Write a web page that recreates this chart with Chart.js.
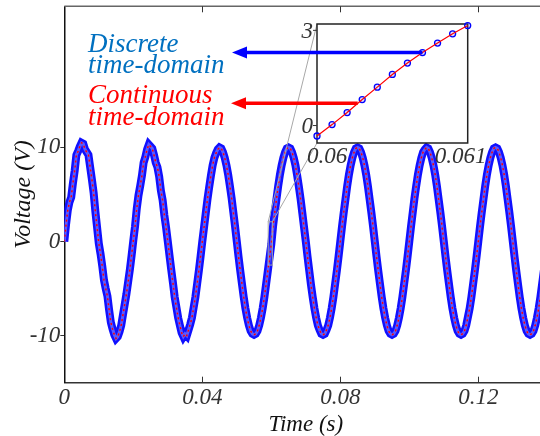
<!DOCTYPE html>
<html>
<head>
<meta charset="utf-8">
<script src="https://cdn.jsdelivr.net/npm/chart.js@4.4.1/dist/chart.umd.min.js"></script>
<style>
  html, body { margin: 0; padding: 0; background: #fff; overflow: hidden; }
  #wrap { position: relative; width: 540px; height: 436px; overflow: hidden; }
  #mainChart, #insetChart { position: absolute; left: 0; top: 0; }
</style>
</head>
<body>
<div id="wrap">
  <canvas id="mainChart" width="560" height="436"></canvas>
  <canvas id="insetChart" width="540" height="436"></canvas>
</div>
<script>
// main trace, one sample every SAMPLE_STEP seconds starting at t = 0
var SAMPLE_STEP = 0.0005;
var voltage = [
    0, 1.8, 3.3, 4.2, 4.7, 6.2, 7.5, 9.2, 9.6, 10.1,
    10.5, 10.4, 9.8, 9.5, 9.2, 7.9, 6.6, 5.2, 3.2, 1.5,
    -0.2, -1.3, -2.6, -4.1, -5.0, -5.8, -7.3, -8.6, -9.3, -9.9,
    -10.3, -10.1, -9.6, -8.9, -7.8, -6.7, -5.6, -4.3, -3.0, -1.5,
    0.1, 1.6, 3.5, 4.9, 5.9, 7.0, 8.4, 9.0, 9.8, 10.3,
    10.1, 9.9, 9.2, 8.4, 7.9, 6.9, 5.4, 4.4, 2.8, 1.5,
    0.0, -1.5, -3.0, -4.4, -5.9, -7.0, -8.1, -8.9, -9.7, -10.1,
    -9.8, -10.0, -9.4, -8.8, -8.1, -7.0, -5.9, -4.5, -3.1, -1.6,
    0,
    1.5, 3.0, 4.5, 5.8, 7.0, 8.1, 8.9, 9.4, 9.8, 10.0,
    9.9, 9.5, 8.9, 8.1, 7.1, 5.9, 4.6, 3.1, 1.6, 0.0,
    -1.6, -3.1, -4.5, -5.9, -7.1, -8.1, -8.9, -9.5, -9.8, -9.9,
    -9.8, -9.5, -8.9, -8.1, -7.1, -5.9, -4.5, -3.1, -1.7, -0.3,
    1.6, 3.1, 4.5, 5.9, 7.1, 8.1, 8.9, 9.5, 9.9, 10.0,
    9.9, 9.5, 8.9, 8.1, 7.0, 5.8, 4.5, 3.0, 1.5, 0.0,
    -1.6, -3.1, -4.6, -5.9, -7.1, -8.1, -8.9, -9.4, -9.8, -9.9,
    -9.8, -9.4, -8.9, -8.1, -7.1, -5.9, -4.5, -3.1, -1.6, 0.0,
    1.6, 3.1, 4.5, 5.9, 7.1, 8.1, 8.9, 9.5, 9.9, 10.0,
    9.9, 9.5, 8.9, 8.1, 7.1, 5.9, 4.5, 3.1, 1.6, 0.0,
    -1.6, -3.1, -4.5, -5.9, -7.1, -8.1, -8.9, -9.5, -9.8, -9.9,
    -9.8, -9.5, -8.9, -8.1, -7.1, -5.9, -4.5, -3.1, -1.6, 0.0,
    1.6, 3.1, 4.6, 5.9, 7.1, 8.1, 8.9, 9.5, 9.8, 10.0,
    9.9, 9.5, 8.9, 8.1, 7.1, 5.9, 4.5, 3.1, 1.6, 0.0,
    -1.6, -3.1, -4.5, -5.9, -7.1, -8.1, -8.9, -9.5, -9.8, -9.9,
    -9.8, -9.5, -8.9, -8.0, -7.1, -5.9, -4.5, -3.1, -1.6, 0.0,
    1.6, 3.1, 4.5, 5.9, 7.1, 8.1, 8.9, 9.5, 9.9, 10.0,
    9.9, 9.5, 8.9, 8.1, 7.1, 5.9, 4.5, 3.1, 1.6, 0.0,
    -1.6, -3.1, -4.5, -5.9, -7.1, -8.1, -8.9, -9.5, -9.8, -9.9,
    -9.8, -9.5, -8.9, -8.1, -7.1, -5.9, -4.5, -3.1, -1.6, 0.0
];
var xTicks = [0, 0.04, 0.08, 0.12];
var yTicks = [-10, 0, 10];

// inset: 0.1 ms samples around t = 0.06 s
var insetTime = [0.0600, 0.0601, 0.0602, 0.0603, 0.0604, 0.0605, 0.0606, 0.0607, 0.0608, 0.0609, 0.0610];
var insetVolts = [-0.33, 0.03, 0.41, 0.82, 1.21, 1.61, 1.97, 2.30, 2.60, 2.89, 3.15];
var insetXTicks = [0.06, 0.061];
var insetYTicks = [0, 3];

// region of the main plot that the inset magnifies
var zoomBox = { x0: 0.0591, x1: 0.0603, y0: -2.5, y1: 2.1 };

var SERIF = '"Liberation Serif", "Times New Roman", serif';
var tickFont = { family: SERIF, size: 23, style: 'italic' };

var mainPoints = voltage.map(function(v, i) { return { x: i * SAMPLE_STEP, y: v }; });
var insetPoints = insetTime.map(function(t, i) { return { x: t, y: insetVolts[i] }; });

var mainAxisDecor = {
    id: 'mainAxisDecor',
    afterDraw: function(chart) {
        var ctx = chart.ctx, a = chart.chartArea, xs = chart.scales.x;
        ctx.save();
        ctx.strokeStyle = '#666';
        ctx.lineWidth = 1.5;
        ctx.beginPath();
        ctx.moveTo(a.left, a.top);
        ctx.lineTo(a.right, a.top);
        ctx.stroke();
        ctx.strokeStyle = '#333';
        ctx.lineWidth = 1;
        ctx.beginPath();
        xs.ticks.forEach(function(t) {
            var px = Math.round(xs.getPixelForValue(t.value)) + 0.5;
            if (t.value === 0) return;
            ctx.moveTo(px, a.bottom); ctx.lineTo(px, a.bottom - 6);
            ctx.moveTo(px, a.top); ctx.lineTo(px, a.top + 6);
        });
        ctx.stroke();
        ctx.restore();
    }
};

var mainChart = new Chart(document.getElementById('mainChart'), {
    type: 'line',
    data: {
        datasets: [{
            label: 'Continuous time-domain',
            data: mainPoints,
            borderColor: '#ff0000',
            borderWidth: 1.5,
            borderDash: [2, 3],
            pointRadius: 0,
            tension: 0
        }, {
            label: 'Discrete inner',
            data: mainPoints,
            borderColor: '#5a5aff',
            borderWidth: 3,
            pointRadius: 0,
            tension: 0
        }, {
            label: 'Discrete time-domain',
            data: mainPoints,
            borderColor: '#1010ff',
            borderWidth: 8,
            pointRadius: 0,
            tension: 0
        }]
    },
    options: {
        responsive: false,
        animation: false,
        devicePixelRatio: 1,
        layout: { padding: { top: 6.3, right: 12.7, left: 0, bottom: 0 } },
        plugins: { legend: { display: false }, tooltip: { enabled: false } },
        scales: {
            x: {
                type: 'linear', min: 0, max: 0.14,
                afterBuildTicks: function(s) { s.ticks = xTicks.map(function(v) { return { value: v }; }); },
                afterFit: function(s) { s.height = 53.3; },
                grid: { drawOnChartArea: false, drawTicks: false },
                border: { color: '#333', width: 1.5 },
                ticks: { font: tickFont, color: '#333', padding: 1, maxRotation: 0, autoSkip: false,
                    callback: function(v) { return String(v); } },
                title: { display: true, text: 'Time (s)', color: '#111',
                    font: { family: SERIF, size: 23, style: 'italic', lineHeight: 1.0 },
                    padding: { top: 0, bottom: 0 } }
            },
            y: {
                min: -15, max: 25,
                afterBuildTicks: function(s) { s.ticks = yTicks.map(function(v) { return { value: v }; }); },
                afterFit: function(s) { s.width = 64.3; },
                grid: { drawOnChartArea: false, drawTicks: true, tickLength: 4, color: '#333' },
                border: { color: '#111', width: 1.5 },
                ticks: { font: { family: SERIF, size: 23, style: 'italic', lineHeight: 0.5 }, color: '#333', padding: 0,
                    callback: function(v) { return String(v); } },
                title: { display: true, text: 'Voltage (V)', color: '#111',
                    font: { family: SERIF, size: 24, style: 'italic', lineHeight: 1.2 },
                    padding: { top: 9, bottom: 0 } }
            }
        }
    },
    plugins: [mainAxisDecor]
});

function drawArrow(ctx, fromX, y, tipX, color) {
    var headLen = 15, headHalf = 6;
    ctx.strokeStyle = color;
    ctx.lineWidth = 3.5;
    ctx.beginPath();
    ctx.moveTo(fromX, y);
    ctx.lineTo(tipX + headLen - 1, y);
    ctx.stroke();
    ctx.fillStyle = color;
    ctx.beginPath();
    ctx.moveTo(tipX, y);
    ctx.lineTo(tipX + headLen, y - headHalf);
    ctx.lineTo(tipX + headLen, y + headHalf);
    ctx.closePath();
    ctx.fill();
}

var insetDecor = {
    id: 'insetDecor',
    beforeDatasetsDraw: function(chart) {
        var ctx = chart.ctx, a = chart.chartArea;
        var mx = mainChart.scales.x, my = mainChart.scales.y;
        var rx0 = mx.getPixelForValue(zoomBox.x0), rx1 = mx.getPixelForValue(zoomBox.x1);
        var ry0 = my.getPixelForValue(zoomBox.y1), ry1 = my.getPixelForValue(zoomBox.y0);
        ctx.save();
        ctx.strokeStyle = '#a8a8a8';
        ctx.lineWidth = 1;
        ctx.strokeRect(rx0, ry0, rx1 - rx0, ry1 - ry0);
        ctx.beginPath();
        ctx.moveTo(a.left, a.top); ctx.lineTo(rx0, ry0);
        ctx.moveTo(a.left, a.bottom); ctx.lineTo(rx1, ry0);
        ctx.stroke();
        ctx.fillStyle = '#fff';
        ctx.fillRect(a.left, a.top, a.right - a.left, a.bottom - a.top);
        ctx.strokeStyle = '#222';
        ctx.lineWidth = 1.5;
        ctx.strokeRect(a.left, a.top, a.right - a.left, a.bottom - a.top);
        ctx.restore();
    },
    afterDraw: function(chart) {
        var ctx = chart.ctx, a = chart.chartArea, xs = chart.scales.x, ys = chart.scales.y;
        ctx.save();
        // inset tick labels
        ctx.font = 'italic 23px ' + SERIF;
        ctx.fillStyle = '#333';
        ctx.strokeStyle = '#333';
        ctx.lineWidth = 1;
        ctx.textAlign = 'right';
        ctx.textBaseline = 'middle';
        insetYTicks.forEach(function(v) {
            var py = ys.getPixelForValue(v);
            ctx.fillText(String(v), a.left - 4, py + 1.5);
            ctx.beginPath(); ctx.moveTo(a.left - 4, py); ctx.lineTo(a.left, py); ctx.stroke();
        });
        ctx.textAlign = 'center';
        ctx.textBaseline = 'alphabetic';
        insetXTicks.forEach(function(v, i) {
            var px = xs.getPixelForValue(v) + (i === 0 ? 10 : -7);
            ctx.fillText(String(v), px, a.bottom + 20);
        });
        // arrows to the two traces
        drawArrow(ctx, xs.getPixelForValue(insetTime[7]), ys.getPixelForValue(insetVolts[7]), 232, '#0000ff');
        drawArrow(ctx, xs.getPixelForValue(0.06027), ys.getPixelForValue(0.70), 231, '#ff0000');
        // legend-like labels
        ctx.font = 'italic 27px ' + SERIF;
        ctx.textAlign = 'left';
        ctx.fillStyle = '#0070c0';
        ctx.fillText('Discrete', 88, 51.5);
        ctx.fillText('time-domain', 88, 72.5);
        ctx.fillStyle = '#ff0000';
        ctx.fillText('Continuous', 88, 103.3);
        ctx.fillText('time-domain', 88, 125);
        ctx.restore();
    }
};

var insetChart = new Chart(document.getElementById('insetChart'), {
    type: 'line',
    data: {
        datasets: [{
            label: 'Continuous',
            data: insetPoints,
            borderColor: '#ff0000',
            borderWidth: 1.2,
            pointRadius: 0,
            tension: 0,
            clip: false
        }, {
            label: 'Discrete',
            data: insetPoints,
            showLine: false,
            pointRadius: 3,
            pointBorderWidth: 1.3,
            pointBorderColor: '#0000ff',
            pointBackgroundColor: 'rgba(90, 90, 255, 0.2)',
            clip: false
        }]
    },
    options: {
        responsive: false,
        animation: false,
        devicePixelRatio: 1,
        layout: { padding: { left: 317, top: 24, right: 72.3, bottom: 293 } },
        plugins: { legend: { display: false }, tooltip: { enabled: false } },
        scales: {
            x: { type: 'linear', min: 0.06, max: 0.061, display: false },
            y: { min: -0.55, max: 3.2, display: false }
        }
    },
    plugins: [insetDecor]
});
</script>
</body>
</html>
